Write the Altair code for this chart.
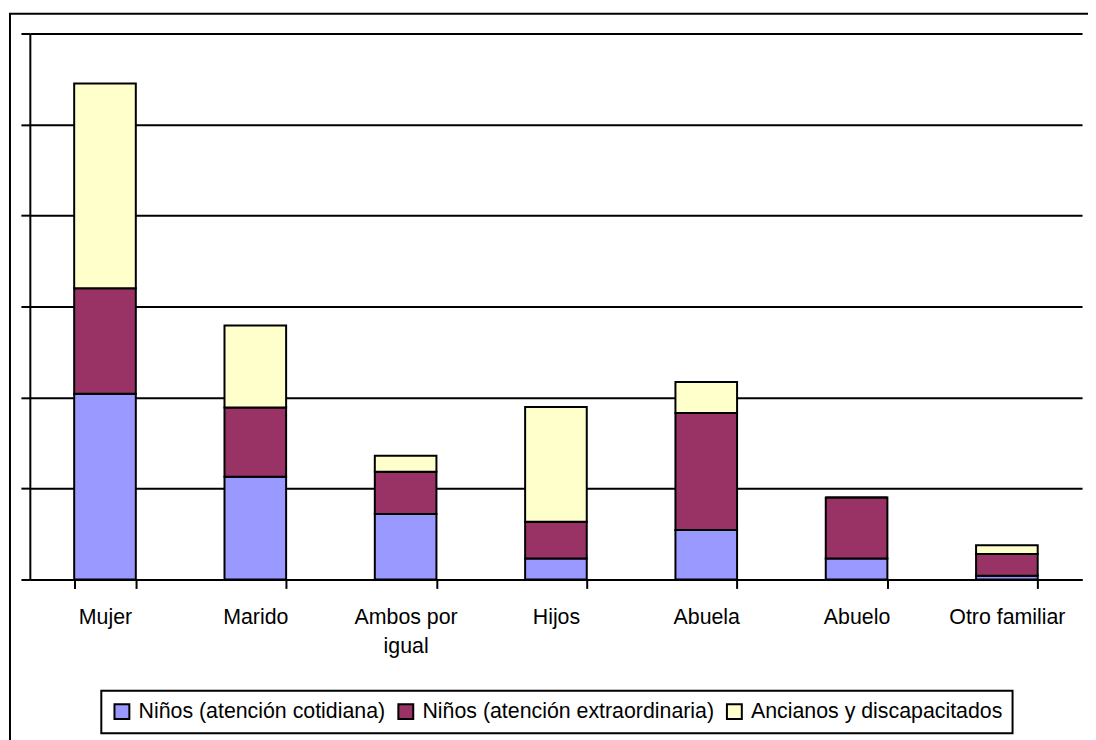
import altair as alt
import pandas as pd

categories = ["Mujer", "Marido", "Ambos por igual", "Hijos", "Abuela", "Abuelo", "Otro familiar"]
series = ["Niños (atención cotidiana)", "Niños (atención extraordinaria)", "Ancianos y discapacitados"]
ninos_cotidiana = [20.4, 11.3, 7.2, 2.3, 5.45, 2.3, 0.4]
ninos_extra = [11.6, 7.6, 4.65, 4.05, 12.85, 6.7, 2.4]
ancianos = [22.5, 9.0, 1.75, 12.6, 3.4, 0.0, 0.95]
colors = ["#9999FF", "#993366", "#FFFFCC"]

rows = []
for i, c in enumerate(categories):
    for j, (s, vals) in enumerate(zip(series, [ninos_cotidiana, ninos_extra, ancianos])):
        rows.append({"cat": c, "serie": s, "val": vals[i], "ord": j})
df = pd.DataFrame(rows)

FONT = "Liberation Sans, Arial, sans-serif"
FS = 21.5

bars = alt.Chart(df).mark_bar(stroke="black", strokeWidth=2).encode(
    x=alt.X("cat:N", sort=categories,
            scale=alt.Scale(paddingInner=0.59, paddingOuter=0.295),
            axis=alt.Axis(title=None, labelAngle=0, labelFont=FONT, labelFontSize=FS,
                          labelColor="black", labelPadding=18, tickBand="extent",
                          tickSize=9, tickColor="black", tickWidth=2,
                          domainColor="black", domainWidth=2, labelLineHeight=30,
                          labelExpr="datum.label == 'Ambos por igual' ? ['Ambos por', 'igual'] : datum.label")),
    y=alt.Y("val:Q", stack="zero",
            scale=alt.Scale(domain=[0, 60], nice=False),
            axis=alt.Axis(title=None, labels=False, values=[0, 10, 20, 30, 40, 50, 60],
                          grid=True, gridColor="black", gridWidth=2, gridOpacity=1,
                          tickSize=9, tickColor="black", tickWidth=2,
                          domainColor="black", domainWidth=2)),
    color=alt.Color("serie:N", sort=series,
                    scale=alt.Scale(domain=series, range=colors),
                    legend=alt.Legend(title=None, orient="none", legendX=72, legendY=662,
                                      direction="horizontal", columns=3,
                                      strokeColor="black", padding=10,
                                      labelFont=FONT, labelFontSize=FS, labelColor="black",
                                      labelLimit=500, labelOffset=6, columnPadding=8,
                                      symbolType="square", symbolSize=225,
                                      symbolStrokeColor="black", symbolStrokeWidth=2,
                                      symbolOpacity=1)),
    order=alt.Order("ord:Q", sort="ascending"),
)

one = pd.DataFrame({"k": [0]})
border_left = alt.Chart(one).mark_rule(color="black", strokeWidth=2).encode(
    x=alt.value(-20), y=alt.value(-20), y2=alt.value(720))
border_top = alt.Chart(one).mark_rule(color="black", strokeWidth=2).encode(
    x=alt.value(-21), x2=alt.value(1070), y=alt.value(-20))

chart = alt.layer(bars, border_left, border_top).properties(
    width=1060, height=550,
    autosize=alt.AutoSizeParams(type="none"),
    padding={"left": 22, "top": 23, "right": 6, "bottom": 159},
    background="white",
).configure_view(strokeWidth=0).configure_legend(strokeWidth=2)

chart.save("out.html", embed_options={"renderer": "svg", "actions": False})
